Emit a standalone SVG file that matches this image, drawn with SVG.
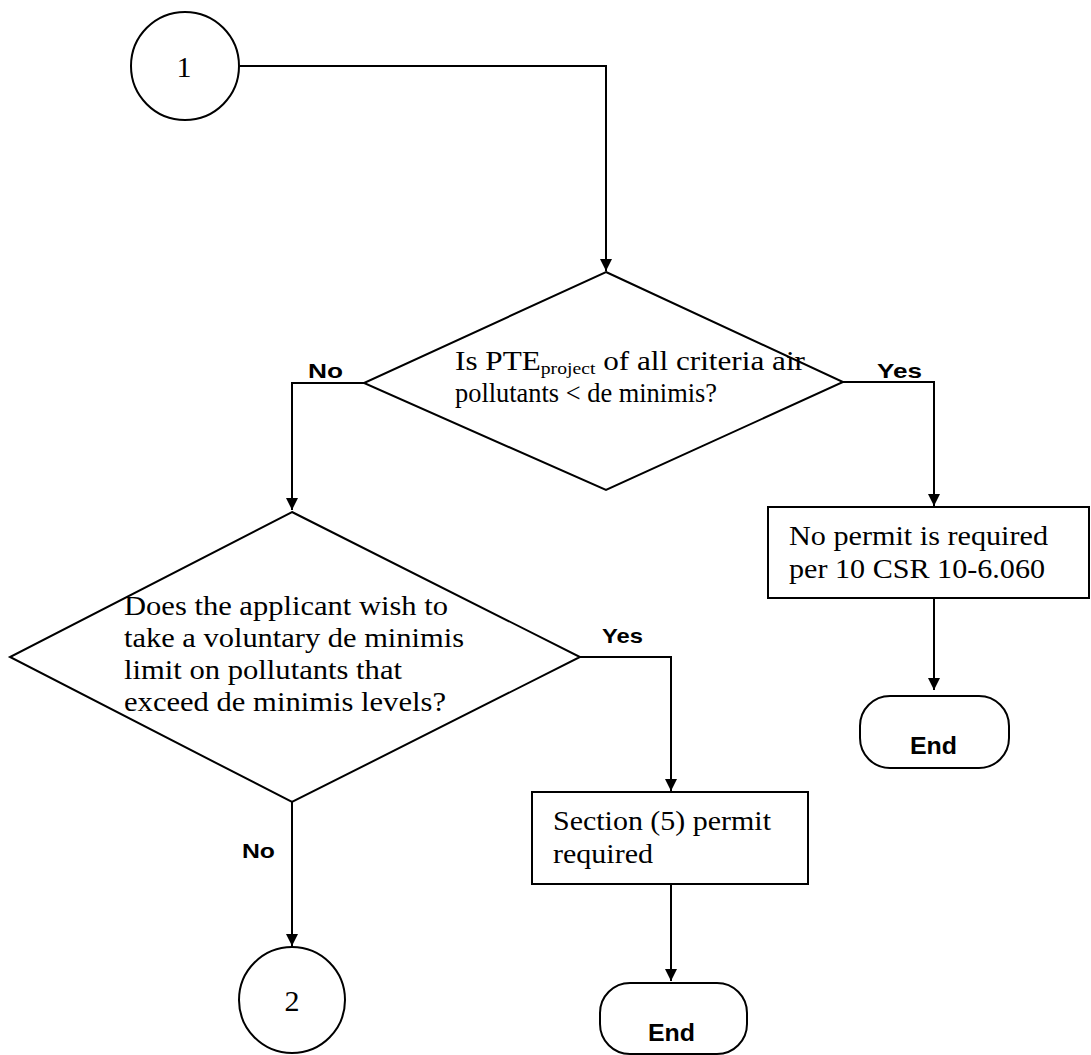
<svg xmlns="http://www.w3.org/2000/svg" width="1091" height="1055" viewBox="0 0 1091 1055">
<defs>
<marker id="arr" viewBox="0 0 10 10" refX="10" refY="5" markerWidth="12" markerHeight="12" markerUnits="userSpaceOnUse" orient="auto">
<path d="M0,0 L10,5 L0,10 z" fill="#000"/>
</marker>
<style>
.shape{fill:#fff;stroke:#000;stroke-width:2}
.conn{fill:none;stroke:#000;stroke-width:2}
.t{font-family:"Liberation Serif","Times New Roman",serif;font-size:27px;fill:#000}
.lbl{font-family:"Liberation Sans",Arial,sans-serif;font-size:21px;font-weight:bold;fill:#000}
.end{font-family:"Liberation Sans",Arial,sans-serif;font-size:24px;font-weight:bold;fill:#000}
.num{font-family:"Liberation Serif","Times New Roman",serif;font-size:30px;fill:#000;text-anchor:middle}
</style>
</defs>
<rect width="1091" height="1055" fill="#fff"/>

<g id="connectors">
<path class="conn" d="M240,66 H606 V271" marker-end="url(#arr)"/>
<path class="conn" d="M364,383 H292 V510" marker-end="url(#arr)"/>
<path class="conn" d="M843,382 H934 V506" marker-end="url(#arr)"/>
<path class="conn" d="M934,598 V690" marker-end="url(#arr)"/>
<path class="conn" d="M580,657 H671 V791" marker-end="url(#arr)"/>
<path class="conn" d="M671,884 V981" marker-end="url(#arr)"/>
<path class="conn" d="M292,802 V946" marker-end="url(#arr)"/>
<text class="lbl" x="308" y="378" textLength="35" lengthAdjust="spacingAndGlyphs">No</text>
<text class="lbl" x="877" y="378" textLength="45" lengthAdjust="spacingAndGlyphs">Yes</text>
<text class="lbl" x="602" y="643" textLength="41" lengthAdjust="spacingAndGlyphs">Yes</text>
<text class="lbl" x="242" y="858" textLength="33" lengthAdjust="spacingAndGlyphs">No</text>
</g>

<g id="node-1">
<circle class="shape" cx="185" cy="66" r="54"/>
<text class="num" x="184" y="77">1</text>
</g>

<g id="decision-pte">
<polygon class="shape" points="606,272 843,382 606,490 364,383"/>
<text class="t" x="455" y="370" textLength="350" lengthAdjust="spacingAndGlyphs">Is PTE<tspan font-size="17" dy="4">project</tspan><tspan dy="-4"> of all criteria air</tspan></text>
<text class="t" x="455" y="402" textLength="262" lengthAdjust="spacingAndGlyphs">pollutants &lt; de minimis?</text>
</g>

<g id="no-permit">
<rect class="shape" x="768" y="507" width="321" height="91"/>
<text class="t" x="789" y="545" textLength="259" lengthAdjust="spacingAndGlyphs">No permit is required</text>
<text class="t" x="789" y="578" textLength="256" lengthAdjust="spacingAndGlyphs">per 10 CSR 10-6.060</text>
</g>

<g id="end-1">
<rect class="shape" x="860" y="696" width="149" height="72" rx="30" ry="30"/>
<text class="end" x="910" y="754" textLength="47" lengthAdjust="spacingAndGlyphs">End</text>
</g>

<g id="decision-voluntary">
<polygon class="shape" points="292,512 580,657 292,802 10,657"/>
<text class="t" x="124" y="615" textLength="324" lengthAdjust="spacingAndGlyphs">Does the applicant wish to</text>
<text class="t" x="124" y="647" textLength="340" lengthAdjust="spacingAndGlyphs">take a voluntary de minimis</text>
<text class="t" x="124" y="679" textLength="278" lengthAdjust="spacingAndGlyphs">limit on pollutants that</text>
<text class="t" x="124" y="711" textLength="322" lengthAdjust="spacingAndGlyphs">exceed de minimis levels?</text>
</g>

<g id="section5">
<rect class="shape" x="532" y="792" width="276" height="92"/>
<text class="t" x="553" y="830" textLength="218" lengthAdjust="spacingAndGlyphs">Section (5) permit</text>
<text class="t" x="553" y="863" textLength="100" lengthAdjust="spacingAndGlyphs">required</text>
</g>

<g id="end-2">
<rect class="shape" x="600" y="983" width="147" height="71" rx="30" ry="30"/>
<text class="end" x="648" y="1041" textLength="47" lengthAdjust="spacingAndGlyphs">End</text>
</g>

<g id="node-2">
<circle class="shape" cx="292" cy="1000" r="53"/>
<text class="num" x="292" y="1011">2</text>
</g>
</svg>
